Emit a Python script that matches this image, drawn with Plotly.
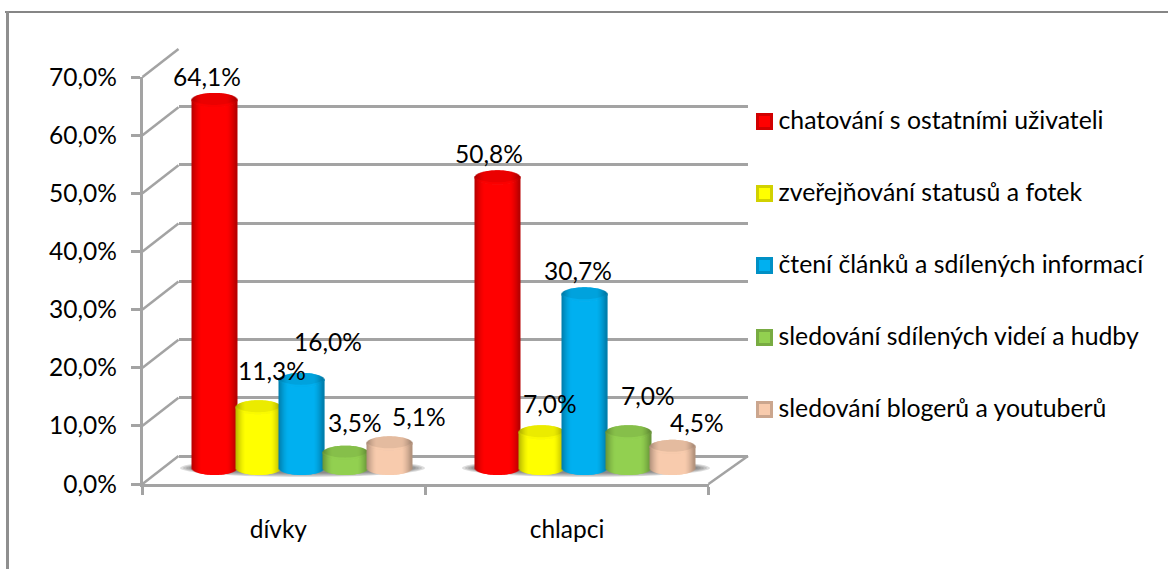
import math
import plotly.graph_objects as go

# data
categories = ['dívky', 'chlapci']
series_names = [
    'chatování s ostatními uživateli',
    'zveřejňování statusů a fotek',
    'čtení článků a sdílených informací',
    'sledování sdílených videí a hudby',
    'sledování blogerů a youtuberů',
]
divky = [64.1, 11.3, 16.0, 3.5, 5.1]
chlapci = [50.8, 7.0, 30.7, 7.0, 4.5]
y_ticks = [0, 10, 20, 30, 40, 50, 60, 70]
y_tick_labels = ['0,0%', '10,0%', '20,0%', '30,0%', '40,0%', '50,0%', '60,0%', '70,0%']

# styles
series_colors = [(255, 0, 0), (255, 255, 0), (0, 176, 240), (146, 208, 80), (248, 203, 173)]
# label nudges in px from the top of each bar
label_nudges = [
    [(-7.5, 23), (13.5, 37), (25.5, 38), (9, 30), (29.5, 27)],
    [(-8, 24), (9, 29), (-7.5, 24), (19, 37), (24, 24)],
]
GRID = '#a3a3a3'
FONT = 'Lato'
FS = 24.5
LEGEND_FS = 24.8
W, H = 1168, 569


def dom_x(a, b):
    return [a / W, b / W]


def dom_y(top, bottom):
    return [1 - bottom / H, 1 - top / H]


def shade(rgb, f):
    return 'rgb(%d,%d,%d)' % tuple(min(255, round(c * f)) for c in rgb)


# cylinders are built from 1px bar strips so the ends can curve
BAR_DOM = (160.5, 726.5)
UNITS_X = 2 / (BAR_DOM[1] - BAR_DOM[0])
UNITS_Y = 1 / 5.82
SLOT = 43.8 * UNITS_X
RADIUS = 22
CAP = 7 * UNITS_Y
BASE = 5 * UNITS_Y

xs, heights, bases, widths, colors = [], [], [], [], []
for g, values in enumerate([divky, chlapci]):
    for s, v in enumerate(values):
        center = g + 0.5 + (s - 2) * SLOT
        rgb = series_colors[s]
        for px in range(-RADIUS, RADIUS + 1):
            u = px / (RADIUS + 0.5)
            arc = CAP * math.sqrt(1 - u * u)
            edge = abs(u)
            f = 1.0 if edge < 0.55 else 1 - 0.3 * ((edge - 0.55) / 0.45) ** 1.5
            x = center + px * UNITS_X
            # body
            xs.append(x)
            bases.append(BASE - arc)
            heights.append(v - BASE)
            widths.append(1.2 * UNITS_X)
            colors.append(shade(rgb, f))
            # top of the cylinder
            xs.append(x)
            bases.append(v - arc)
            heights.append(2 * arc)
            widths.append(1.2 * UNITS_X)
            colors.append(shade(rgb, f * 0.92))
            # light rim at the front of the top
            xs.append(x)
            bases.append(v - arc)
            heights.append(2 * UNITS_Y)
            widths.append(1.2 * UNITS_X)
            colors.append(shade(rgb, f * 1.02))

fig = go.Figure()

# back wall, front axes, bars, legend each get their own subplot
fig.add_trace(go.Scatter(x=[0], y=[0], xaxis='x', yaxis='y', mode='markers', marker_opacity=0,
                         showlegend=False, hoverinfo='skip'))
fig.add_trace(go.Scatter(x=[0], y=[0], xaxis='x2', yaxis='y2', mode='markers', marker_opacity=0,
                         showlegend=False, hoverinfo='skip'))
fig.add_trace(go.Bar(x=xs, y=heights, base=bases, width=widths, xaxis='x3', yaxis='y3',
                     marker=dict(color=colors, line_width=0), showlegend=False, hoverinfo='skip'))
# legend keys: dark edge with a bright middle
fig.add_trace(go.Scatter(
    x=[0] * 5, y=list(range(5)), xaxis='x4', yaxis='y4', mode='markers',
    marker=dict(symbol='square', size=17, color=[shade(c, 0.82) for c in series_colors], line_width=0),
    cliponaxis=False, showlegend=False, hoverinfo='skip'))
fig.add_trace(go.Scatter(
    x=[0] * 5, y=list(range(5)), xaxis='x4', yaxis='y4', mode='markers',
    marker=dict(symbol='square', size=11, color=[shade(c, 1.0) for c in series_colors], line_width=0),
    cliponaxis=False, showlegend=False, hoverinfo='skip'))
fig.add_trace(go.Scatter(
    x=[14] * 5, y=[i + 0.025 for i in range(5)], xaxis='x4', yaxis='y4', mode='text',
    text=series_names, textposition='middle right',
    textfont=dict(family=FONT, size=LEGEND_FS, color='black'),
    cliponaxis=False, showlegend=False, hoverinfo='skip'))

hidden = dict(showgrid=False, zeroline=False, showline=False, showticklabels=False, ticks='')
fig.update_layout(
    template='none',
    width=W, height=H, autosize=False,
    margin=dict(l=0, r=0, t=0, b=0, pad=0),
    paper_bgcolor='white', plot_bgcolor='rgba(0,0,0,0)',
    barmode='overlay', showlegend=False,
    font=dict(family=FONT, size=FS, color='black'),
    xaxis=dict(domain=dom_x(178.5, 748), range=[0, 1], **hidden),
    yaxis=dict(domain=dom_y(48.5, 456), range=[0, 70], tickvals=y_ticks, showgrid=True,
               gridcolor=GRID, gridwidth=2.5, zeroline=True, zerolinecolor=GRID, zerolinewidth=2.5,
               showline=False, showticklabels=False, ticks=''),
    xaxis2=dict(domain=dom_x(142.5, 708.5), range=[0, 2], anchor='y2', showgrid=False, zeroline=False,
                showline=True, linecolor=GRID, linewidth=2.5,
                tickvals=[0.48, 1.5], ticktext=categories, ticks='', ticklabelstandoff=22,
                minor=dict(tickvals=[0, 1, 2], ticks='outside', ticklen=8, tickwidth=2.5, tickcolor=GRID)),
    yaxis2=dict(domain=dom_y(77, 484), range=[0, 70], anchor='x2', showgrid=False, zeroline=False,
                showline=True, linecolor=GRID, linewidth=2.5,
                tickvals=y_ticks, ticktext=y_tick_labels, ticks='outside', ticklen=9, tickwidth=2.5,
                tickcolor=GRID, ticklabelstandoff=9),
    xaxis3=dict(domain=dom_x(*BAR_DOM), range=[0, 2], anchor='y3', **hidden),
    # runs a little below 0 so the rounded bar ends are not clipped
    yaxis3=dict(domain=dom_y(473 - 70 * 5.82, 473 + 3 * 5.82), range=[-3, 70], anchor='x3', **hidden),
    xaxis4=dict(domain=dom_x(750, 1160), range=[-14.5, 395.5], anchor='y4', **hidden),
    yaxis4=dict(domain=dom_y(85.5, 445.5), range=[4.5, -0.5], anchor='x4', **hidden),
)

# value labels
for g, values in enumerate([divky, chlapci]):
    for s, v in enumerate(values):
        dx, dy = label_nudges[g][s]
        fig.add_annotation(x=g + 0.5 + (s - 2) * SLOT, y=v, xref='x3', yref='y3',
                           text=f'{v:.1f}'.replace('.', ',') + '%', showarrow=False,
                           xshift=dx, yshift=dy, font=dict(family=FONT, size=FS, color='black'))


def line(x0, y0, x1, y1, color=GRID, width=2.5):
    fig.add_shape(type='line', xref='paper', yref='paper', x0=x0 / W, x1=x1 / W,
                  y0=1 - y0 / H, y1=1 - y1 / H, line=dict(color=color, width=width))


# chart frame, only top and left show
line(5, 12, W, 12, '#868686', 2)
line(7.5, 11, 7.5, H, '#8f8f8f', 3)

# slanted side wall and floor lines
for t in y_ticks:
    yf = 484 - (484 - 77) * t / 70
    line(142.5, yf, 178.5, yf - 28)
line(708.5, 484, 748, 456)

# soft shadow on the floor under each group
for x0, x1 in [(180, 425), (462, 710)]:
    for i in range(5):
        fig.add_shape(type='circle', xref='paper', yref='paper', layer='below',
                      x0=(x0 + i * 3) / W, x1=(x1 - i * 3) / W,
                      y0=1 - (477 - i) / H, y1=1 - (459 + i) / H,
                      fillcolor='#555555', opacity=0.2, line_width=0)

fig.write_html('out.html', config={'displayModeBar': False},
               post_script="document.body.style.margin='0';")
